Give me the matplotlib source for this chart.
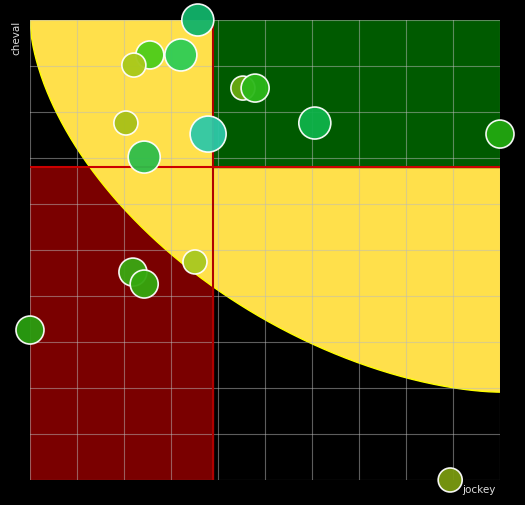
import numpy as np
import matplotlib
matplotlib.use("Agg")
import matplotlib.pyplot as plt
from matplotlib.patches import Rectangle

x_vals = [3.57, 2.55, 2.21, 3.21, 4.53, 4.79, 2.04, 3.79, 6.06, 10.0, 2.43, 3.51, 2.19, 2.43, 0.0, 8.94]
y_vals = [10.0, 9.24, 9.02, 9.24, 8.52, 8.52, 7.76, 7.52, 7.76, 7.52, 7.02, 4.74, 4.52, 4.26, 3.26, 0.0]
radii = [16, 14, 12, 16, 12, 14, 12, 18, 16, 14, 16, 12, 14, 14, 14, 12]
colors = ["#11b36a", "#4ccc1a", "#a8c81a", "#2ecc55", "#6aaa10", "#2cb81a", "#a8c018", "#2ec8a8",
          "#0fb24a", "#22aa10", "#2ebd4a", "#a8c820", "#3aa812", "#35a80e", "#2a9e10", "#7a9a10"]
x_split, y_split = 3.9, 6.8

fig = plt.figure(figsize=(5.25, 5.05), dpi=100, facecolor="black")
ax = fig.add_axes([30/525, 25/505, 470/525, 460/505])
ax.set_facecolor("black")
ax.set_xlim(0, 10); ax.set_ylim(0, 10)

ax.add_patch(Rectangle((0, 0), x_split, y_split, color="#7a0000", zorder=1))
p, a, b = 1.7, 10.0, 8.09
t = np.linspace(0, 1, 300)
cx = 10 - a * (1 - t)
cy = 10 - b * (1 - (1 - t) ** p) ** (1 / p)
ax.fill(np.concatenate([cx, [10, 0]]), np.concatenate([cy, [10, 10]]), color="#ffe04b", zorder=2, lw=0)
ax.plot(cx, cy, color="#ffff00", lw=1, zorder=2)
ax.add_patch(Rectangle((x_split, y_split), 10 - x_split, 10 - y_split, color="#005a00", zorder=3))

for v in range(11):
    ax.axvline(v, color="#bbbbbb", lw=0.8, alpha=0.5, zorder=4)
    ax.axhline(v, color="#bbbbbb", lw=0.8, alpha=0.5, zorder=4)
ax.plot([x_split, x_split], [0, 10], color="#b00000", lw=1.5, zorder=5)
ax.plot([0, 10], [y_split, y_split], color="#cc0000", lw=1.5, zorder=5)

s = [(2 * r * 0.72) ** 2 for r in radii]
ax.scatter(x_vals, y_vals, s=s, c=colors, edgecolors="white", linewidths=1.2, alpha=0.95, zorder=6, clip_on=False)

for sp in ax.spines.values():
    sp.set_visible(False)
ax.set_xticks([]); ax.set_yticks([])
fig.text(496/525, 1 - 490/505, "jockey", color="#dddddd", fontsize=7.5, ha="right", va="center")
fig.text(16/525, 1 - 38/505, "cheval", color="#dddddd", fontsize=7.5, rotation=90, ha="center", va="center")
fig.savefig("out.png", dpi=100, facecolor="black")
